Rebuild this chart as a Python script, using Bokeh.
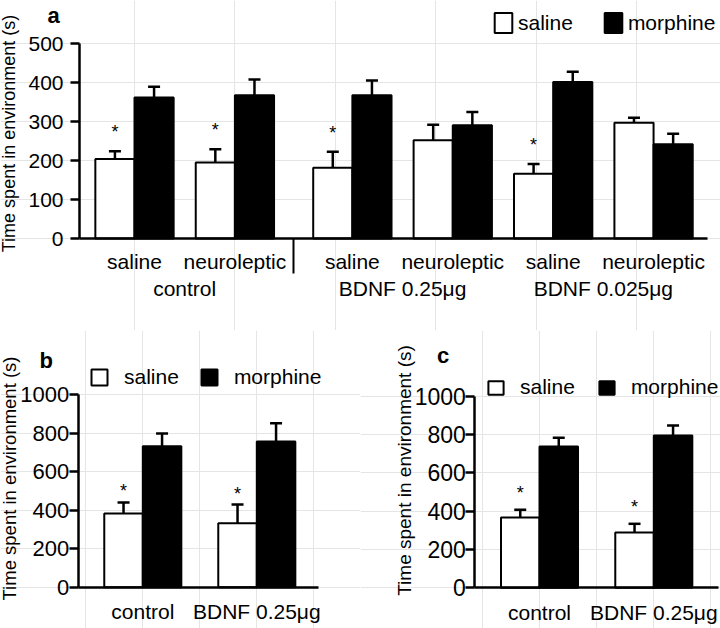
from math import pi
from bokeh.plotting import figure
from bokeh.models import (Range1d, LinearAxis, FixedTicker, ColumnDataSource, Whisker,
                          TeeHead, Legend, LegendItem, Label)
from bokeh.layouts import column, row
from bokeh.core.properties import value
from bokeh.embed import file_html
from bokeh.resources import INLINE

FONT = "Liberation Sans"
Y_LABEL = "Time spent in environment (s)"
SERIES = ["saline", "morphine"]

# ---- panel a ----
A_TREAT = ["saline", "neuroleptic", "saline", "neuroleptic", "saline", "neuroleptic"]
A_GROUPS = ["control", "BDNF 0.25μg", "BDNF 0.025μg"]
A_SAL_MEAN = [204, 195, 182, 252, 166, 297]
A_SAL_SEM = [20, 34, 41, 40, 25, 13]
A_MOR_MEAN = [362, 368, 368, 291, 402, 242]
A_MOR_SEM = [28, 40, 38, 34, 26, 27]
A_STAR = [True, True, True, False, True, False]
A_YTICKS = [0, 100, 200, 300, 400, 500]

# ---- panel b ----
B_CATS = ["control", "BDNF 0.25μg"]
B_SAL_MEAN = [382, 332]
B_SAL_SEM = [58, 97]
B_MOR_MEAN = [732, 756]
B_MOR_SEM = [66, 95]
B_STAR = [True, True]

# ---- panel c ----
C_CATS = ["control", "BDNF 0.25μg"]
C_SAL_MEAN = [367, 289]
C_SAL_SEM = [40, 45]
C_MOR_MEAN = [737, 795]
C_MOR_SEM = [46, 52]
C_STAR = [True, True]

BC_YTICKS = [0, 200, 400, 600, 800, 1000]


class Geo:
    """Pixel geometry of one panel (layout only, no data)."""
    def __init__(self, W, H, x0, xs, ax_lo, ax_hi, y0, ys, y_top_val):
        self.W, self.H = W, H
        self.xr = ((0 - x0) / xs, (W - x0) / xs)
        self.yr = ((y0 - H) / ys, y0 / ys)
        self.xb = ((ax_lo - x0) / xs, (ax_hi - x0) / xs)
        self.yb = (0, y_top_val)


def make_fig(g):
    p = figure(width=g.W, height=g.H, x_range=Range1d(*g.xr), y_range=Range1d(*g.yr),
               x_axis_location=None, y_axis_location=None, toolbar_location=None,
               title_location=None, output_backend="svg", min_border=0)
    p.outline_line_color = None
    p.background_fill_color = "white"
    p.border_fill_color = "white"
    return p


def add_yaxis(p, g, ticks, size, standoff):
    ax = LinearAxis(ticker=FixedTicker(ticks=ticks), fixed_location=g.xb[0], bounds=g.yb,
                    axis_line_color="black", axis_line_width=2.5,
                    major_tick_line_color="black", major_tick_line_width=2.5,
                    major_tick_out=9, major_tick_in=0, minor_tick_line_color=None,
                    major_label_standoff=standoff, major_label_text_font=FONT,
                    major_label_text_font_size=size, major_label_text_color="black")
    p.add_layout(ax, "left")


def add_xaxis(p, g, ticks, labels, standoff, line=True):
    ax = LinearAxis(ticker=FixedTicker(ticks=ticks), fixed_location=0, bounds=g.xb,
                    major_label_overrides={t: s for t, s in zip(ticks, labels)},
                    axis_line_color="black" if line else None, axis_line_width=2.5,
                    major_tick_line_color=None, major_tick_out=0, major_tick_in=0,
                    minor_tick_line_color=None,
                    major_label_standoff=standoff, major_label_text_font=FONT,
                    major_label_text_font_size="21px", major_label_text_color="black")
    p.add_layout(ax, "below")


def add_separator(p, g, where):
    ax = LinearAxis(ticker=FixedTicker(ticks=[], minor_ticks=where), fixed_location=0,
                    bounds=g.xb, axis_line_color=None, major_tick_line_color=None,
                    minor_tick_line_color="black", minor_tick_line_width=2,
                    minor_tick_out=35, minor_tick_in=0)
    p.add_layout(ax, "below")


def add_bars(p, pos, sal_mean, sal_sem, mor_mean, mor_sem, stars, bar_w, star_off):
    sal = ColumnDataSource(dict(x=[c - bar_w / 2 for c in pos], top=sal_mean,
                                upper=[m + s for m, s in zip(sal_mean, sal_sem)]))
    mor = ColumnDataSource(dict(x=[c + bar_w / 2 for c in pos], top=mor_mean,
                                upper=[m + s for m, s in zip(mor_mean, mor_sem)]))
    r_sal = p.vbar(x="x", top="top", bottom=0, width=bar_w, source=sal,
                   fill_color="white", line_color="black", line_width=2)
    r_mor = p.vbar(x="x", top="top", bottom=0, width=bar_w, source=mor,
                   fill_color="black", line_color="black", line_width=2)
    for src in (sal, mor):
        p.add_layout(Whisker(source=src, base="x", lower="top", upper="upper",
                             dimension="height", line_color="black", line_width=2.5,
                             lower_head=None,
                             upper_head=TeeHead(size=12, line_color="black", line_width=2.5)))
    sx = [x for x, s in zip(sal.data["x"], stars) if s]
    sy = [u for u, s in zip(sal.data["upper"], stars) if s]
    p.text(x=sx, y=sy, text=value("*"), text_align="center", text_baseline="alphabetic",
           y_offset=star_off, text_font=value(FONT), text_font_size=value("18px"),
           text_color="black")
    return r_sal, r_mor


def add_legend(p, r_sal, r_mor, vx, vy, gw, gh, standoff, spacing, lh):
    leg = Legend(items=[LegendItem(label=value(SERIES[0]), renderers=[r_sal]),
                        LegendItem(label=value(SERIES[1]), renderers=[r_mor])],
                 orientation="horizontal", location=(vx, vy), padding=0, margin=0,
                 spacing=spacing, glyph_width=gw, glyph_height=gh,
                 label_standoff=standoff, label_height=lh,
                 label_text_font=FONT, label_text_font_size="21px",
                 label_text_color="black", border_line_color=None,
                 background_fill_alpha=0)
    p.add_layout(leg)


def add_texts(p, letter, lx, ly, ylx, yly, ysize):
    p.add_layout(Label(x=lx, y=ly, x_units="screen", y_units="screen", text=letter,
                       text_font=FONT, text_font_size="22px", text_font_style="bold",
                       text_color="black", text_baseline="alphabetic"))
    p.add_layout(Label(x=ylx, y=yly, x_units="screen", y_units="screen", text=Y_LABEL,
                       angle=pi / 2, text_align="center", text_baseline="middle",
                       text_font=FONT, text_font_size=ysize, text_color="black"))


# ---------------- panel a ----------------
A_GAP = 0.17
a_pos = [i + (A_GAP if i >= 2 else 0) for i in range(len(A_TREAT))]
a_grp = [(a_pos[2 * k] + a_pos[2 * k + 1]) / 2 for k in range(len(A_GROUPS))]
a_sep = (a_pos[1] + a_pos[2]) / 2

ga = Geo(720, 330, 134, 100.4, 79, 707, 238, 0.3894, A_YTICKS[-1])
pa = make_fig(ga)
add_yaxis(pa, ga, A_YTICKS, "21px", 7)
add_xaxis(pa, ga, a_pos, A_TREAT, 11, line=True)
add_xaxis(pa, ga, a_grp, A_GROUPS, 38, line=False)
add_separator(pa, ga, [a_sep])
ra = add_bars(pa, a_pos, A_SAL_MEAN, A_SAL_SEM, A_MOR_MEAN, A_MOR_SEM, A_STAR, 0.39, -19)
add_legend(pa, *ra, 492, 295, 22, 25, 4, 29, 25)
add_texts(pa, "a", 47, 315, 8.5, 197, "18px")

# ---------------- panel b ----------------
b_pos = list(range(len(B_CATS)))
gb = Geo(360, 298, 142.3, 114, 77.7, 318.3, 256.7, 0.1927, BC_YTICKS[-1])
pb = make_fig(gb)
add_yaxis(pb, gb, BC_YTICKS, "22px", 0)
add_xaxis(pb, gb, b_pos, B_CATS, 13, line=True)
rb = add_bars(pb, b_pos, B_SAL_MEAN, B_SAL_SEM, B_MOR_MEAN, B_MOR_SEM, B_STAR, 0.338, -11)
add_legend(pb, *rb, 89, 239, 20, 20, 15, 20, 24)
add_texts(pb, "b", 39, 268, 9, 150, "18.5px")

# ---------------- panel c ----------------
c_pos = list(range(len(C_CATS)))
gc = Geo(360, 298, 179, 114.3, 114.3, 358.3, 257.3, 0.1916, BC_YTICKS[-1])
pc = make_fig(gc)
add_yaxis(pc, gc, BC_YTICKS, "23px", 0)
add_xaxis(pc, gc, c_pos, C_CATS, 13, line=True)
rc = add_bars(pc, c_pos, C_SAL_MEAN, C_SAL_SEM, C_MOR_MEAN, C_MOR_SEM, C_STAR, 0.337, -17)
add_legend(pc, *rc, 126, 229, 19, 17, 15, 22, 24)
add_texts(pc, "c", 76.5, 273, 44, 158, "19px")

layout = column(pa, row(pb, pc))
open("out.html", "w").write(file_html(layout, INLINE))
